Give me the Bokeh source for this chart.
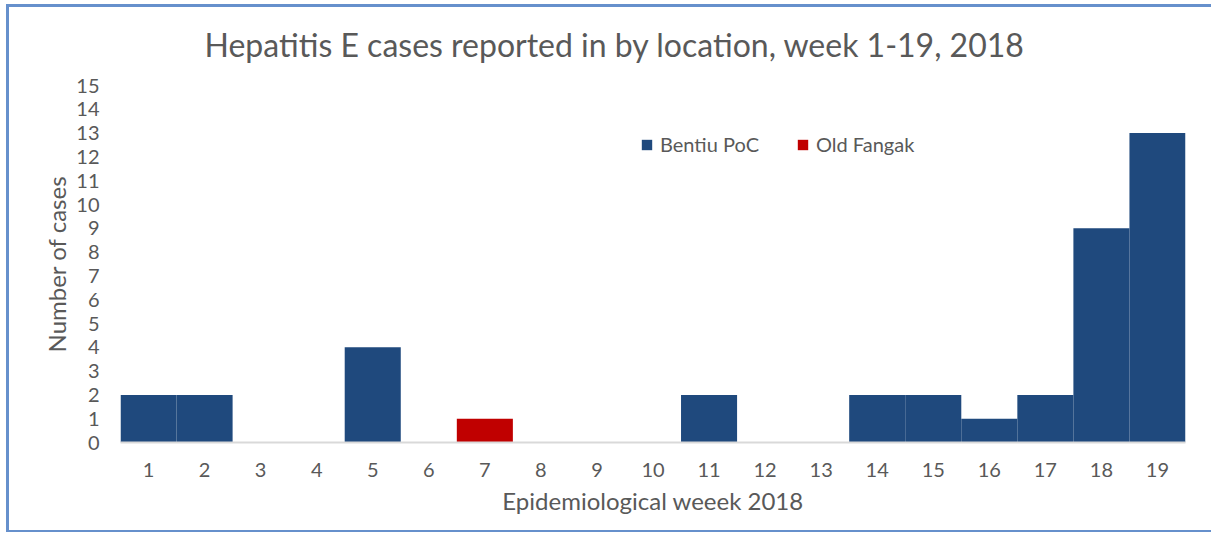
from bokeh.plotting import figure
from bokeh.models import FixedTicker, Range1d, Legend, LegendItem
from bokeh.embed import file_html
from bokeh.resources import INLINE

weeks = [str(i) for i in range(1, 20)]
bentiu_poc = [2, 2, 0, 0, 4, 0, 0, 0, 0, 0, 2, 0, 0, 2, 2, 1, 2, 9, 13]
old_fangak = [0, 0, 0, 0, 0, 0, 1, 0, 0, 0, 0, 0, 0, 0, 0, 0, 0, 0, 0]
y_ticks = list(range(0, 16))

FONT = "Lato"
GREY = "#595959"
BORDER = "#6690cc"

p = figure(x_range=weeks, y_range=Range1d(0, 15), width=1211, height=532,
           output_backend="svg", toolbar_location=None,
           title="Hepatitis E cases reported in by location, week 1-19, 2018",
           min_border_left=120, min_border_right=26, min_border_top=85, min_border_bottom=90)
p.styles = {"box-shadow": f"inset 6px 4px 0 0 #ffffff, inset 9px 7px 0 0 {BORDER}, inset 0 -2px 0 0 {BORDER}",
            "background-color": "#ffffff"}
p.border_fill_alpha = 0
p.x_range.range_padding = 0

src = dict(weeks=weeks, bentiu=bentiu_poc, fangak=old_fangak)
rs = p.vbar_stack(["bentiu", "fangak"], x="weeks", width=1.0, source=src,
                  color=["#1f497d", "#c00000"], line_color=None)

p.title.text_font = FONT
p.title.text_font_size = "32px"
p.title.text_font_style = "normal"
p.title.text_color = GREY
p.title.align = "left"
p.title.offset = 84
p.title.standoff = 43

p.xgrid.grid_line_color = None
p.ygrid.grid_line_color = None
p.outline_line_color = None

p.yaxis.ticker = FixedTicker(ticks=y_ticks)
p.yaxis.axis_line_color = None
p.yaxis.major_tick_line_color = None
p.yaxis.minor_tick_line_color = None
p.yaxis.major_label_text_font = FONT
p.yaxis.major_label_text_font_size = "20px"
p.yaxis.major_label_text_color = GREY
p.yaxis.major_label_standoff = 15
p.yaxis.axis_label = "Number of cases"
p.yaxis.axis_label_text_font = FONT
p.yaxis.axis_label_text_font_size = "24px"
p.yaxis.axis_label_text_font_style = "normal"
p.yaxis.axis_label_text_color = GREY
p.yaxis.axis_label_standoff = 2

p.xaxis.axis_line_color = "#d9d9d9"
p.xaxis.axis_line_width = 2
p.xaxis.major_tick_line_color = None
p.xaxis.minor_tick_line_color = None
p.xaxis.major_label_text_font = FONT
p.xaxis.major_label_text_font_size = "20px"
p.xaxis.major_label_text_color = GREY
p.xaxis.major_label_standoff = 14
p.xaxis.axis_label = "Epidemiological weeek 2018"
p.xaxis.axis_label_text_font = FONT
p.xaxis.axis_label_text_font_size = "24px"
p.xaxis.axis_label_text_font_style = "normal"
p.xaxis.axis_label_text_color = GREY
p.xaxis.axis_label_standoff = 6

legend = Legend(items=[LegendItem(label="Bentiu PoC", renderers=[rs[0]]),
                       LegendItem(label="Old Fangak", renderers=[rs[1]])],
                location=(520, 286), orientation="horizontal",
                border_line_color=None, background_fill_alpha=0,
                label_text_font=FONT, label_text_font_size="20px", label_text_color=GREY,
                glyph_width=13, glyph_height=13, label_standoff=7, spacing=37,
                padding=0, margin=0)
p.add_layout(legend)

open("out.html", "w").write(file_html(p, INLINE))
